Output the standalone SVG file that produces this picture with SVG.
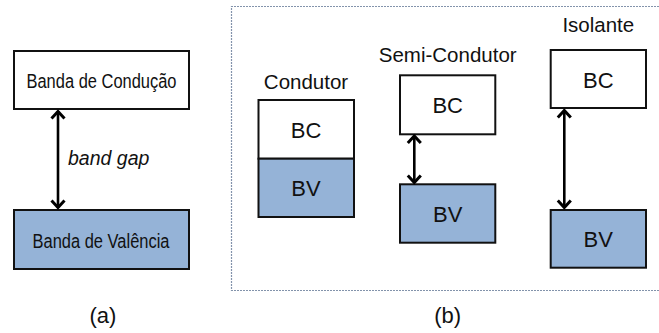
<svg xmlns="http://www.w3.org/2000/svg" width="659" height="333" viewBox="0 0 659 333">
<style>
.box{stroke:#111;stroke-width:2}
.w{fill:#fff}
.b{fill:#95b3d7}
.t{font-family:"Liberation Sans",Arial,sans-serif;fill:#111;text-anchor:middle}
.big{font-size:22px}
.lbl{font-size:20.5px}
.nar{font-size:19.5px}
.conn{stroke:#000;stroke-width:2.6;fill:none}
.head{stroke:#000;stroke-width:3;fill:none;stroke-linejoin:miter}
</style>
<rect width="659" height="333" fill="#fff"/>
<path d="M659,6.5 H231.5 V290.5 H659" fill="none" stroke="#8393ab" stroke-width="1.2" stroke-dasharray="2 1"/>

<g id="a-bc">
<rect class="box w" x="14" y="51" width="175" height="58"/>
<text class="t nar" x="101.5" y="88" textLength="150" lengthAdjust="spacingAndGlyphs">Banda de Condução</text>
</g>
<g id="a-bv">
<rect class="box b" x="14" y="210" width="175" height="59"/>
<text class="t nar" x="101" y="247.5" textLength="137" lengthAdjust="spacingAndGlyphs">Banda de Valência</text>
</g>
<text class="t" x="68" y="165" style="font-size:19.5px;font-style:italic;text-anchor:start">band gap</text>
<text class="t big" x="103" y="323">(a)</text>
<text class="t big" x="447.7" y="323">(b)</text>

<g id="condutor">
<text class="t lbl" x="306" y="89">Condutor</text>
<rect class="box w" x="258.5" y="100" width="95.5" height="58.7"/>
<rect class="box b" x="258.5" y="158.7" width="95.5" height="58.3"/>
<text class="t big" x="306" y="137.5">BC</text>
<text class="t big" x="306" y="196">BV</text>
</g>

<g id="semi">
<text class="t lbl" x="447.7" y="61.5">Semi-Condutor</text>
<g id="semi-bc">
<rect class="box w" x="400" y="75.3" width="95.3" height="59"/>
<text class="t big" x="447.7" y="112.8">BC</text>
</g>
<g id="semi-bv">
<rect class="box b" x="400" y="184.3" width="95.3" height="58.4"/>
<text class="t big" x="447.7" y="221.8">BV</text>
</g>
</g>

<g id="isolante">
<text class="t lbl" x="598.3" y="31.5">Isolante</text>
<g id="iso-bc">
<rect class="box w" x="550.7" y="50" width="95.3" height="58"/>
<text class="t big" x="598.3" y="87.5">BC</text>
</g>
<g id="iso-bv">
<rect class="box b" x="550.7" y="210" width="95.3" height="57.7"/>
<text class="t big" x="598.3" y="246.8">BV</text>
</g>
</g>

<g id="connectors">
<line class="conn" x1="58" y1="111" x2="58" y2="208"/>
<polyline class="head" points="51.5,118.5 58,111.5 64.5,118.5"/>
<polyline class="head" points="51.5,200.5 58,207.5 64.5,200.5"/>

<line class="conn" x1="414.3" y1="136" x2="414.3" y2="182.5"/>
<polyline class="head" points="407.8,143 414.3,136 420.8,143"/>
<polyline class="head" points="407.8,175.5 414.3,182.5 420.8,175.5"/>

<line class="conn" x1="564.3" y1="110" x2="564.3" y2="208"/>
<polyline class="head" points="557.8,117.5 564.3,110.5 570.8,117.5"/>
<polyline class="head" points="557.8,200.5 564.3,207.5 570.8,200.5"/>
</g>
</svg>
